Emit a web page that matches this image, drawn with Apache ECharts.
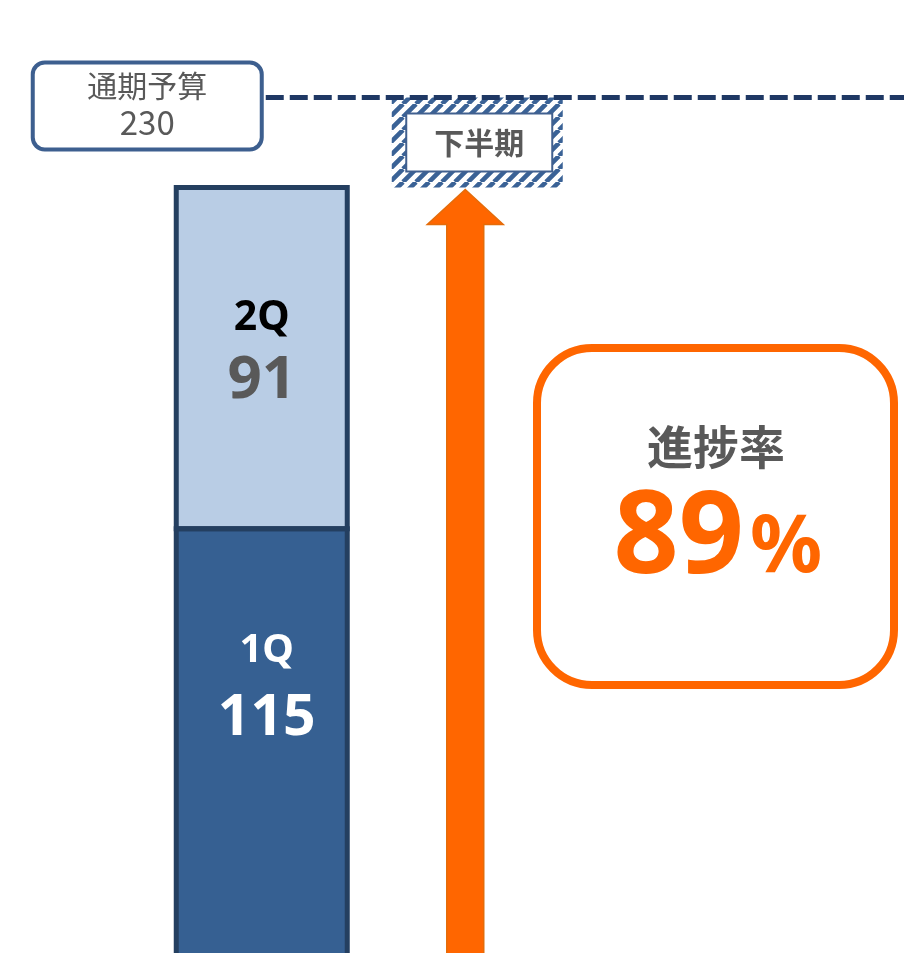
<!DOCTYPE html>
<html><head><meta charset="utf-8">
<script src="https://cdn.jsdelivr.net/npm/echarts@6/dist/echarts.min.js"></script>
<style>html,body{margin:0;padding:0;background:#fff}#c{width:904px;height:953px}</style>
</head><body><div id="c"></div>
<script>
const categories = ['上半期', '下半期'];
const q1Values = [115, '-'];
const q2Values = [91, '-'];
const budgetValue = 230;
const budgetLabel = '通期予算';
const remainLabel = '下半期';
const progressLabel = '進捗率';
const progressRate = 89;

const actualTotal = q1Values[0] + q2Values[0];
const remaining = budgetValue - actualTotal;
// segment outlines [category index, from, to]
const outlineSegments = [[0, 0, q1Values[0]], [0, q1Values[0], actualTotal]];

const BAR_W = 171;

function hatchCanvas() {
  const s = 13;
  const c = document.createElement('canvas');
  c.width = s; c.height = s;
  const g = c.getContext('2d');
  g.fillStyle = '#ffffff'; g.fillRect(0, 0, s, s);
  g.strokeStyle = '#3a6296'; g.lineWidth = 4.6;
  g.beginPath();
  for (const o of [-s, 0, s]) { g.moveTo(o, s); g.lineTo(o + s, 0); }
  g.stroke();
  return c;
}

const DIG = '"Noto Sans", sans-serif';
const CJK = '"Noto Sans CJK JP", sans-serif';

const chart = echarts.init(document.getElementById('c'), null, {renderer: 'canvas'});
const option = {
  animation: false,
  grid: {left: 154, width: 431, top: 22.5, height: 937.5, containLabel: false, outerBoundsMode: 'none'},
  xAxis: {type: 'category', data: categories, show: false},
  yAxis: {type: 'value', min: 0, max: 250, show: false, splitLine: {show: false}},
  series: [
    {
      name: '1Q', type: 'bar', stack: 'total', data: q1Values, barWidth: BAR_W, clip: false,
      itemStyle: {color: '#366092'},
      label: {
        show: true, position: 'inside', offset: [5, -54],
        formatter: p => `{q|${p.seriesName}}\n{v|${p.value}}`,
        rich: {
          q: {fontFamily: DIG, fontWeight: 'bold', fontSize: 40, color: '#ffffff', lineHeight: 56, align: 'center'},
          v: {fontFamily: DIG, fontWeight: 'bold', fontSize: 57, color: '#ffffff', lineHeight: 80, align: 'center'}
        }
      }
    },
    {
      name: '2Q', type: 'bar', stack: 'total', data: q2Values, barWidth: BAR_W, clip: false,
      itemStyle: {color: '#b9cde5'},
      label: {
        show: true, position: 'inside', offset: [0, -5],
        formatter: p => `{q|${p.seriesName}}\n{v|${p.value}}`,
        rich: {
          q: {fontFamily: DIG, fontWeight: 'bold', fontSize: 41, color: '#000000', lineHeight: 56, align: 'center'},
          v: {fontFamily: DIG, fontWeight: 'bold', fontSize: 60, color: '#595959', lineHeight: 70, align: 'center'}
        }
      }
    },
    {
      name: 'base', type: 'bar', stack: 'total', data: ['-', actualTotal], barWidth: BAR_W, silent: true,
      itemStyle: {color: 'rgba(0,0,0,0)'}
    },
    {
      name: remainLabel, type: 'bar', stack: 'total', data: ['-', remaining], barWidth: BAR_W,
      itemStyle: {color: {image: hatchCanvas(), repeat: 'repeat'}},
      label: {
        show: true, position: 'inside', offset: [2, 0], formatter: remainLabel,
        fontFamily: CJK, fontWeight: 'bold', fontSize: 30, color: '#595959', lineHeight: 36,
        backgroundColor: '#ffffff', borderColor: '#41608f', borderWidth: 2, padding: [10, 27]
      }
    },
    {
      name: 'outline', type: 'custom', data: outlineSegments, encode: {x: 0, y: [1, 2]}, z: 4, clip: false, silent: true,
      renderItem: function (params, api) {
        const a = api.coord([api.value(0), api.value(1)]);
        const b = api.coord([api.value(0), api.value(2)]);
        return {
          type: 'rect',
          shape: {x: a[0] - BAR_W / 2, y: b[1], width: BAR_W, height: a[1] - b[1]},
          style: {fill: null, stroke: '#243f60', lineWidth: 5}
        };
      }
    },
    {
      name: 'arrow', type: 'custom', data: [[1, actualTotal]], encode: {x: 0, y: 1}, z: 5, clip: false, silent: true,
      renderItem: function (params, api) {
        const top = api.coord([api.value(0), api.value(1)]);
        const base = api.coord([api.value(0), 0]);
        const cx = top[0] - 12, ty = top[1] + 2;
        const hh = 35, hw = 38, sw = 18.5;
        return {
          type: 'polygon',
          shape: {points: [[cx, ty], [cx + hw, ty + hh], [cx + sw, ty + hh], [cx + sw, base[1]],
                           [cx - sw, base[1]], [cx - sw, ty + hh], [cx - hw, ty + hh]]},
          style: {fill: '#ff6600', stroke: '#e46c0a', lineWidth: 1.5}
        };
      }
    }
  ]
};
chart.setOption(option);

const pt = chart.convertToPixel({gridIndex: 0}, [categories[0], budgetValue]);
const bx = pt[0], ly = pt[1];
const W = chart.getWidth();
chart.setOption({
  graphic: [
    {type: 'line', z: 10, shape: {x1: bx + 4, y1: ly, x2: W, y2: ly},
     style: {stroke: '#1f3864', lineWidth: 5, lineDash: [18, 6]}},
    {type: 'rect', z: 11, shape: {x: bx - 229, y: ly - 35, width: 229, height: 87, r: 12},
     style: {fill: '#ffffff', stroke: '#3d5f8f', lineWidth: 4}},
    {type: 'text', z: 12, x: bx - 114.5, y: ly - 12,
     style: {text: budgetLabel, font: '30px ' + CJK, fill: '#595959', align: 'center', verticalAlign: 'middle'}},
    {type: 'text', z: 12, x: bx - 114.5, y: ly + 25,
     style: {text: String(budgetValue), font: '33px ' + CJK, fill: '#595959', align: 'center', verticalAlign: 'middle'}},
    {type: 'rect', z: 11, shape: {x: 537, y: 348, width: 357, height: 337, r: 55},
     style: {fill: '#ffffff', stroke: '#ff6600', lineWidth: 8}},
    {type: 'text', z: 12, x: 716, y: 447,
     style: {text: progressLabel, font: 'bold 46px ' + CJK, fill: '#595959', align: 'center', verticalAlign: 'middle'}},
    {type: 'text', z: 12, x: 744, y: 541,
     style: {text: String(progressRate), font: 'bold 114px ' + DIG, fill: '#ff6600', align: 'right', verticalAlign: 'middle'}},
    {type: 'text', z: 12, x: 750, y: 549,
     style: {text: '%', font: 'bold 80px ' + DIG, fill: '#ff6600', align: 'left', verticalAlign: 'middle'}}
  ]
});
</script>
</body></html>
